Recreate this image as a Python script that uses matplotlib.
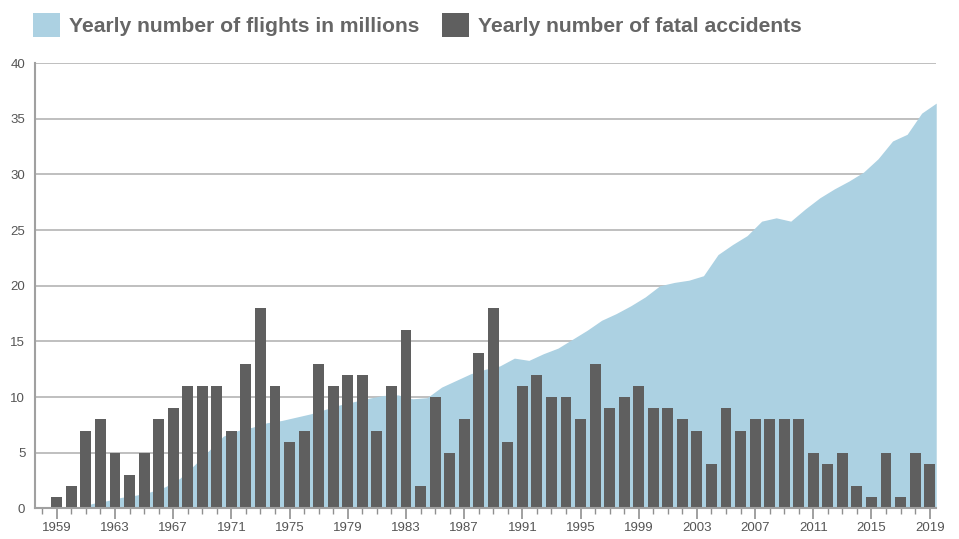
import matplotlib
matplotlib.use('Agg')
import matplotlib.pyplot as plt
from matplotlib.patches import Patch
from matplotlib.ticker import MultipleLocator
import numpy as np

plt.rcParams['font.family'] = ['Liberation Sans', 'DejaVu Sans']

years = np.arange(1959, 2020)

# yearly number of fatal accidents
fatal_accidents = [1, 2, 7, 8, 5, 3, 5, 8, 9, 11,
                   11, 11, 7, 13, 18, 11, 6, 7, 13, 11,
                   12, 12, 7, 11, 16, 2, 10, 5, 8, 14,
                   18, 6, 11, 12, 10, 10, 8, 13, 9, 10,
                   11, 9, 9, 8, 7, 4, 9, 7, 8, 8,
                   8, 8, 5, 4, 5, 2, 1, 5, 1, 5,
                   4]

# yearly number of flights in millions
flights_millions = [0.0, 0.05, 0.45, 0.7, 1.0, 1.2, 1.5, 1.95, 2.7, 3.9,
                    5.2, 6.5, 7.0, 7.3, 7.7, 7.9, 8.2, 8.5, 8.9, 9.3,
                    9.6, 9.9, 10.15, 10.2, 9.85, 9.95, 10.9, 11.5, 12.1, 12.5,
                    12.8, 13.5, 13.3, 13.9, 14.4, 15.2, 16.0, 16.9, 17.5, 18.2,
                    19.0, 20.0, 20.3, 20.5, 20.9, 22.8, 23.7, 24.5, 25.8, 26.1,
                    25.8, 26.9, 27.9, 28.7, 29.4, 30.2, 31.4, 33.0, 33.6, 35.5,
                    36.4]

labels = ['Yearly number of flights in millions', 'Yearly number of fatal accidents']

blue = '#acd1e2'
dark = '#5f5f5f'
grid = '#b4b4b4'
text_col = '#555555'

fig = plt.figure(figsize=(9.59, 5.39), dpi=100)
ax = fig.add_axes([0.0365, 0.0566, 0.939, 0.8265])

# area sits between the bars, shifted a bit to the right
ax.fill_between(years + 0.45, flights_millions, 0, color=blue, lw=0, zorder=2)
ax.bar(years, fatal_accidents, width=0.75, color=dark, zorder=3)

ax.set_xlim(1957.5, 2019.4)
ax.set_ylim(0, 40)
ax.yaxis.set_major_locator(MultipleLocator(5))
ax.xaxis.set_major_locator(MultipleLocator(4, offset=3))
ax.xaxis.set_minor_locator(MultipleLocator(1))
ax.grid(axis='y', color=grid, lw=1.2, zorder=1)
ax.set_axisbelow(True)

for side in ['top', 'right']:
    ax.spines[side].set_visible(False)
for side in ['left', 'bottom']:
    ax.spines[side].set_color('#a0a0a0')
    ax.spines[side].set_linewidth(1.5)
    ax.spines[side].set_zorder(4)

ax.tick_params(axis='y', length=0, pad=7, labelsize=9.5, labelcolor=text_col)
ax.tick_params(axis='x', which='major', length=8, width=1.2, color='#909090',
               pad=2, labelsize=9.5, labelcolor=text_col)
ax.tick_params(axis='x', which='minor', length=4, width=1.0, color='#909090')

handles = [Patch(facecolor=blue, edgecolor='none'), Patch(facecolor=dark, edgecolor='none')]
fig.legend(handles, labels, loc='upper left', bbox_to_anchor=(0.0143, 1.012), ncol=2,
           frameon=False, handlelength=1.28, handleheight=1.4, handletextpad=0.43,
           columnspacing=1.07, prop={'size': 15.2, 'weight': 'bold'}, labelcolor='#666666')

fig.savefig('out.png', dpi=100)
